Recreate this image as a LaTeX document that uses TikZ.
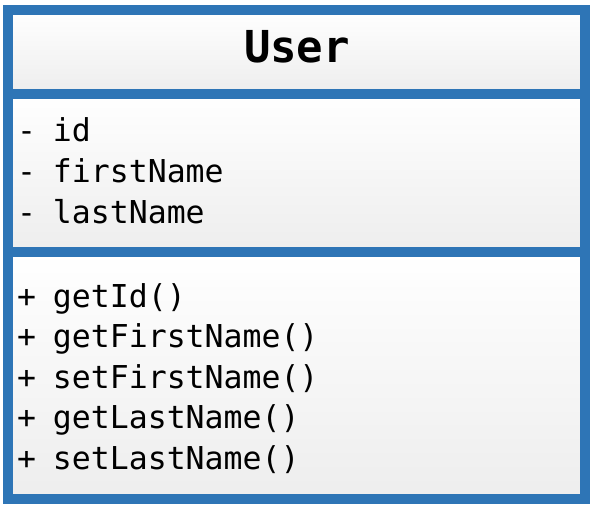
\documentclass[tikz,border=0pt]{standalone}
\usepackage{fontspec}
\setmonofont{DejaVu Sans Mono}
\usepackage[dvipsnames]{xcolor}
\usetikzlibrary{positioning}
\definecolor{umlblue}{RGB}{46,117,182}
\newcommand{\umlvis}[1]{\makebox[36pt][l]{#1}}

\begin{document}
\begin{tikzpicture}[x=1pt,y=1pt,node distance=40.5pt,
    part node/.style={rectangle,draw=umlblue,line width=10pt,top color=white,bottom color=black!7,minimum width=577pt,inner sep=0pt,outer sep=0pt},
    member node/.style={inner sep=0pt,text width=560pt,align=left,text height=24pt,text depth=8pt,font=\ttfamily\fontsize{31.5}{36}\selectfont},
    title node/.style={inner sep=0pt,font=\ttfamily\bfseries\fontsize{44}{50}\selectfont}]
                \useasboundingbox[fill=white] (0,0) rectangle (594,-513);
                \node[part node,minimum height=84pt] (head) at (296.5,-52) {};
                \node[part node,minimum height=158pt] (attrs) at (296.5,-173) {};
                \node[part node,minimum height=247pt] (ops) at (296.5,-375.5) {};

                \node[title node] (name) at (297,-47) {User};

                \node[member node] (a1) at (297,-134) {\umlvis{-}id};
                \node[member node] (a2) [below of=a1] {\umlvis{-}firstName};
                \node[member node] (a3) [below of=a2] {\umlvis{-}lastName};

                \node[member node] (m1) at (297,-299) {\umlvis{+}getId()};
                \node[member node] (m2) [below of=m1] {\umlvis{+}getFirstName()};
                \node[member node] (m3) [below of=m2] {\umlvis{+}setFirstName()};
                \node[member node] (m4) [below of=m3] {\umlvis{+}getLastName()};
                \node[member node] (m5) [below of=m4] {\umlvis{+}setLastName()};
            \end{tikzpicture}
\end{document}
